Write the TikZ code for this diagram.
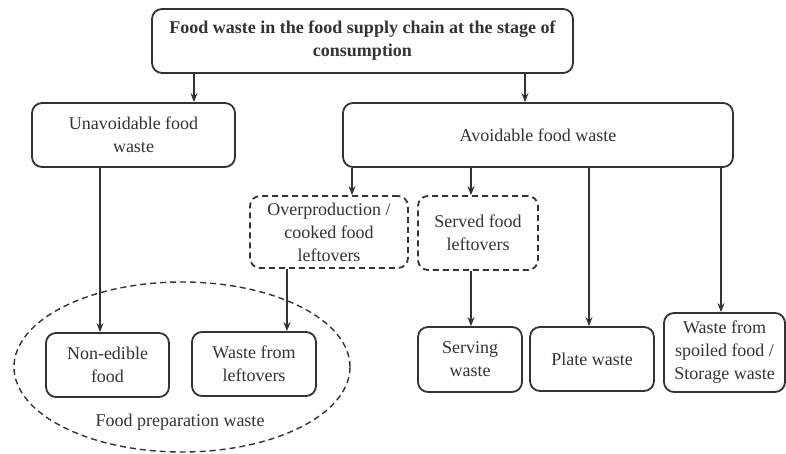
\documentclass[tikz,border=0pt]{standalone}
\usepackage{fontspec}
\setmainfont{Liberation Serif}
\usetikzlibrary{arrows.meta,shapes.geometric}
\definecolor{ink}{HTML}{333333}
\tikzset{
  box/.style={draw=ink,line width=0.9pt,rounded corners=5pt,align=center,text=ink,
    font=\fontsize{9}{11.5}\selectfont,inner sep=1pt},
  dbox/.style={box,dash pattern=on 3pt off 2pt},
  conn/.style={draw=ink,line width=0.6pt},
  arr/.style={conn,-{Stealth[length=4.5pt,width=3.5pt]}},
}
\begin{document}
\begin{tikzpicture}[x=0.5pt,y=-0.5pt]
\useasboundingbox (0,0) rectangle (786,454);
\node[box,minimum width=210.5pt,minimum height=32pt,font=\fontsize{9}{11.5}\selectfont\bfseries] (top) at (362.5,41)
  {Food waste in the food supply chain at the stage of\\consumption};
\node[box,minimum width=101.5pt,minimum height=32pt] (unav) at (133.5,135) {Unavoidable food\\waste};
\node[box,minimum width=195pt,minimum height=32pt] (avoid) at (538,135) {Avoidable food waste};
\node[dbox,minimum width=79pt,minimum height=36pt] (over) at (329,232) {Overproduction /\\cooked food\\leftovers};
\node[dbox,minimum width=60pt,minimum height=37pt] (served) at (478,233) {Served food\\leftovers};
\node[draw=ink,dash pattern=on 3pt off 2pt,line width=0.7pt,ellipse,minimum width=168pt,minimum height=85pt,inner sep=0pt] (prep) at (182,367) {};
\node[box,minimum width=61.5pt,minimum height=32pt] (nonedible) at (107.5,365) {Non-edible\\food};
\node[box,minimum width=62pt,minimum height=32pt] (wleft) at (254,364) {Waste from\\leftovers};
\node[text=ink,font=\fontsize{9}{11.5}\selectfont] (preplabel) at (180,422) {Food preparation waste};
\node[box,minimum width=52pt,minimum height=32.5pt] (serving) at (470,359.5) {Serving\\waste};
\node[box,minimum width=62pt,minimum height=32pt] (plate) at (592,359) {Plate waste};
\node[box,minimum width=60.5pt,minimum height=39.5pt] (spoiled) at (724.5,352.5) {Waste from\\spoiled food /\\Storage waste};
\coordinate (x1) at (194,0);
\coordinate (x2) at (525,0);
\coordinate (x3) at (100,0);
\coordinate (x4) at (352,0);
\coordinate (x5) at (471,0);
\coordinate (x6) at (589,0);
\coordinate (x7) at (721,0);
\coordinate (x8) at (287,0);
\draw[arr] (top.south -| x1) -- (unav.north -| x1);
\draw[arr] (top.south -| x2) -- (avoid.north -| x2);
\draw[arr] (unav.south -| x3) -- (nonedible.north -| x3);
\draw[arr] (avoid.south -| x4) -- (over.north -| x4);
\draw[arr] (avoid.south -| x5) -- (served.north -| x5);
\draw[arr] (avoid.south -| x6) -- (plate.north -| x6);
\draw[arr] (avoid.south -| x7) -- (spoiled.north -| x7);
\draw[arr] (over.south -| x8) -- (wleft.north -| x8);
\draw[arr] (served.south -| x5) -- (serving.north -| x5);
\end{tikzpicture}
\end{document}
